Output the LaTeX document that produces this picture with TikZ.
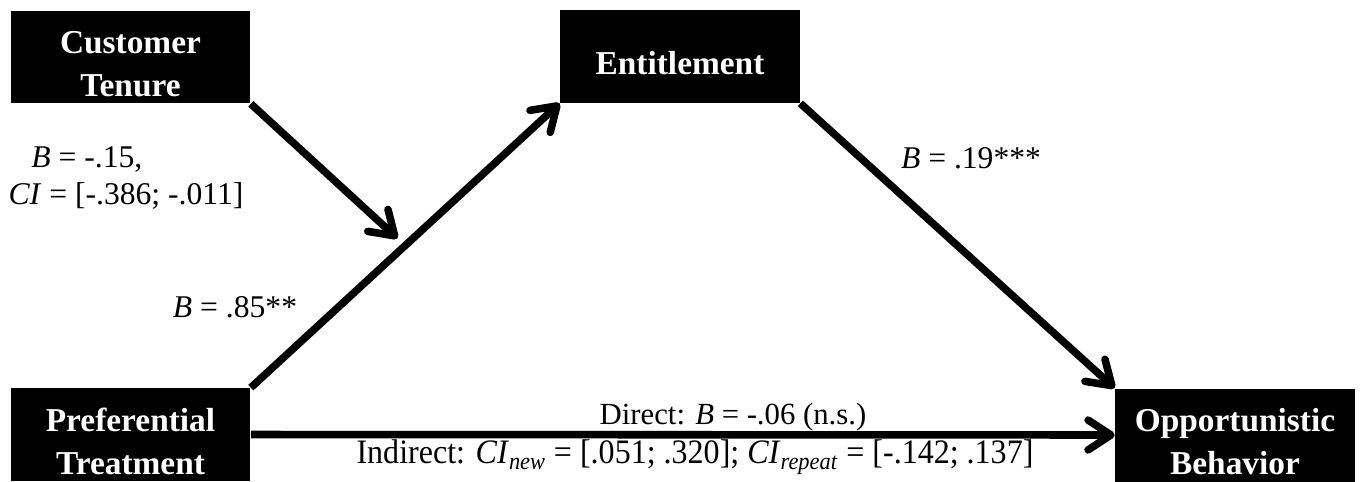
\documentclass[tikz,border=0pt]{standalone}
\usepackage{fontspec}
\setmainfont{Liberation Serif}
\usetikzlibrary{arrows.meta, calc}

\newcommand{\liftline}{\rule{0pt}{21pt}}

\begin{document}
\begin{tikzpicture}[x=0.02cm, y=-0.02cm,
  varbox/.style={fill=black, text=white, align=center, inner sep=0pt,
    minimum width=4.8cm, minimum height=1.86cm,
    font=\fontsize{19}{24.4}\selectfont\bfseries},
  effect/.style={line width=4.3pt, -{Straight Barb[length=13pt, width=17pt, round]}},
  coef/.style={inner sep=0pt, font=\fontsize{18}{21}\selectfont}]

\useasboundingbox (0,0) rectangle (1366,481);

% --- Variables ---
\node[varbox] (tenure) at (130.5,57) {\liftline Customer\\Tenure};
\node[varbox] (entitle) at (680,56.5) {\liftline Entitlement};
\node[varbox] (pref) at (130.5,434.5) {\liftline Preferential\\Treatment};
\node[varbox] (oppor) at (1235,435) {\liftline Opportunistic\\Behavior};

% --- Paths ---
\draw[effect] (pref.north east) -- (entitle.south west);
\draw[effect] (entitle.south east) -- (oppor.north west);
\draw[effect] (pref.east) -- (oppor.west);

% moderation onto the first path
\coordinate (mod) at ($(pref.north east)!0.5!(entitle.south west)$);
\draw[effect, shorten >=6pt] (tenure.south east) -- (mod);

% --- Coefficients ---
\node[coef, align=left] (tenureB) at (126,178)
  {\hspace*{13pt}\textit{B} = -.15,\\\textit{CI} = [-.386; -.011]};
\node[coef] (prefB) at (235,307) {\textit{B} = .85**};
\node[coef] (entB) at (971,158) {\textit{B} = .19***};
\node[coef, font=\fontsize{17.5}{19}\selectfont] (direct) at (733,417)
  {Direct: \textit{B} = -.06 (n.s.)};
\node[coef] (indirect) at (695,457)
  {\scalebox{0.935}[1]{\fontsize{19.5}{22}\selectfont Indirect: \textit{CI}\textsubscript{\textit{new}} = [.051; .320]; \textit{CI}\textsubscript{\textit{repeat}} = [-.142; .137]}};

\end{tikzpicture}
\end{document}
